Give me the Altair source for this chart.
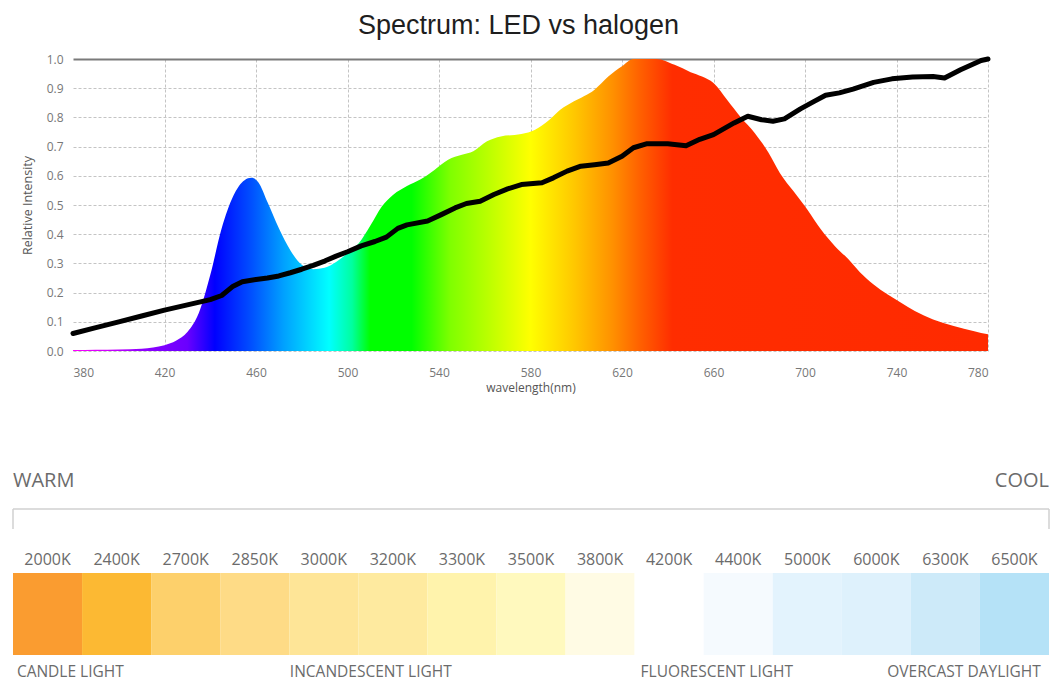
import altair as alt
import pandas as pd

# ---------------- data ----------------
led_wl = [380, 390, 400, 410, 415, 420, 425, 430, 435, 440, 445, 450, 455, 458, 461,
          465, 470, 475, 480, 485, 490, 495, 500, 505, 510, 515, 520, 526, 532, 538,
          544, 550, 555, 561, 567, 576, 582, 588, 593, 599, 608, 614, 620, 625, 635,
          643, 650, 655, 660, 666, 672, 678, 684, 689, 695, 701, 707, 713, 719, 724,
          730, 736, 742, 748, 756, 765, 774, 780]
led_val = [0.003, 0.004, 0.005, 0.008, 0.012, 0.02, 0.035, 0.065, 0.13, 0.26, 0.42, 0.53,
           0.585, 0.593, 0.578, 0.51, 0.42, 0.345, 0.295, 0.28, 0.285, 0.305, 0.335, 0.37,
           0.43, 0.495, 0.535, 0.565, 0.588, 0.62, 0.655, 0.672, 0.684, 0.718, 0.735, 0.743,
           0.758, 0.79, 0.826, 0.855, 0.895, 0.94, 0.975, 1.0, 1.0, 0.98, 0.955, 0.94, 0.918,
           0.86, 0.80, 0.747, 0.68, 0.61, 0.547, 0.485, 0.416, 0.36, 0.314, 0.27, 0.228,
           0.194, 0.165, 0.137, 0.108, 0.086, 0.068, 0.057]

hal_wl = [380, 390, 400, 410, 420, 430, 440, 445, 450, 454, 460, 465, 470, 475, 480, 485,
          490, 495, 500, 506, 512, 517, 522, 526, 535, 541, 547, 552, 558, 564, 570, 576,
          585, 590, 596, 602, 608, 614, 620, 625, 631, 640, 648, 654, 660, 669, 675, 681,
          686, 691, 698, 704, 709, 715, 721, 730, 738, 747, 756, 761, 768, 777, 780]
hal_val = [0.06, 0.08, 0.10, 0.12, 0.14, 0.158, 0.176, 0.19, 0.222, 0.237, 0.245, 0.25,
           0.257, 0.268, 0.28, 0.293, 0.308, 0.325, 0.34, 0.36, 0.375, 0.39, 0.42, 0.432,
           0.445, 0.467, 0.49, 0.505, 0.513, 0.536, 0.555, 0.57, 0.576, 0.593, 0.616, 0.633,
           0.638, 0.644, 0.667, 0.696, 0.71, 0.71, 0.703, 0.725, 0.741, 0.781, 0.804, 0.792,
           0.787, 0.795, 0.829, 0.855, 0.876, 0.884, 0.897, 0.92, 0.932, 0.938, 0.94, 0.935,
           0.963, 0.995, 1.0]

# spectrum colour stops (wavelength -> colour)
grad_wl = [380, 395, 410, 430, 442, 458, 472, 492, 502, 510, 528, 545, 563, 580, 599,
           616, 628, 642, 780]
grad_colors = ["#FF00FF", "#D000FF", "#9000FF", "#6A00FF", "#0000FF", "#0050FF", "#00A0FF",
               "#00FFFF", "#00FF9F", "#00FF00", "#00FF00", "#7FFF00", "#C0FF00", "#FFFF00",
               "#FFC800", "#FF9000", "#FF6000", "#FF2D00", "#FF2A00"]

x_ticks = [380, 420, 460, 500, 540, 580, 620, 660, 700, 740, 780]
y_ticks = [0, 0.1, 0.2, 0.3, 0.4, 0.5, 0.6, 0.7, 0.8, 0.9, 1]

kelvins = ["2000K", "2400K", "2700K", "2850K", "3000K", "3200K", "3300K", "3500K",
           "3800K", "4200K", "4400K", "5000K", "6000K", "6300K", "6500K"]
swatch_colors = ["#FA9C30", "#FCB933", "#FDD06B", "#FEDB86", "#FEE597", "#FEEA9F",
                 "#FFF3AC", "#FFF9BE", "#FFFBE4", "#FFFFFF", "#F5FAFE", "#E3F3FD",
                 "#DEF1FC", "#CDEAF9", "#B5E2F7"]
categories = ["CANDLE LIGHT", "INCANDESCENT LIGHT", "FLUORESCENT LIGHT", "OVERCAST DAYLIGHT"]
category_centre = [0.83, 5.18, 10.19, 13.77]   # in swatch units

# ---------------- top: spectrum ----------------
W, H = 915, 292
FONT = "Open Sans"

led_df = pd.DataFrame({"wl": led_wl, "v": led_val})
hal_df = pd.DataFrame({"wl": hal_wl, "v": hal_val})

stops = [alt.GradientStop(offset=(w - 380) / 400, color=c) for w, c in zip(grad_wl, grad_colors)]
gradient = alt.Gradient(gradient="linear", stops=stops, x1=0, x2=1, y1=0, y2=0)

xscale = alt.Scale(domain=[380, 780], nice=False, zero=False)
yscale = alt.Scale(domain=[0, 1], nice=False)

x_axis = alt.Axis(values=x_ticks, title="wavelength(nm)", ticks=False, domain=False,
                  labelFont=FONT, labelFontSize=12, labelColor="#777777", labelPadding=16,
                  titleFont=FONT, titleFontSize=12, titleFontWeight="normal",
                  titleColor="#555555", titlePadding=4,
                  gridColor="#c4c4c4", gridDash=[3, 2], gridWidth=1,
                  gridOpacity={"condition": {"test": "datum.value === 380", "value": 0}, "value": 1})
y_axis = alt.Axis(values=y_ticks, format=".1f", title="Relative Intensity", ticks=False,
                  domain=False, labelFont=FONT, labelFontSize=12, labelColor="#777777",
                  labelPadding=10, labelOverlap=False, titleFont=FONT, titleFontSize=12.5,
                  titleFontWeight="normal", titleColor="#555555", titlePadding=12,
                  gridColor={"condition": {"test": "datum.value === 1", "value": "#7a7a7a"},
                             "value": "#c4c4c4"},
                  gridDash={"condition": {"test": "datum.value === 1", "value": []},
                            "value": [3, 2]},
                  gridWidth={"condition": {"test": "datum.value === 1", "value": 2},
                             "value": 1})

X = alt.X("wl:Q", scale=xscale, axis=x_axis)
Y = alt.Y("v:Q", scale=yscale, axis=y_axis)

area = alt.Chart(led_df).mark_area(color=gradient, opacity=1, interpolate="monotone").encode(
    x=X, y=Y)
line = alt.Chart(hal_df).mark_line(color="black", strokeWidth=5, strokeCap="round",
                                   strokeJoin="round").encode(x=X, y=Y)

top = alt.layer(area, line).properties(
    width=W, height=H,
    title=alt.TitleParams("Spectrum: LED vs halogen", font="Liberation Sans", fontSize=27,
                          fontWeight="normal", color="#1e1e1e", anchor="middle",
                          frame="group", dx=-12, baseline="alphabetic", offset=-8),
)

# ---------------- bottom: colour temperature strip ----------------
HB = 82
sw_df = pd.DataFrame({"kelvin": kelvins, "color": swatch_colors, "i": list(range(len(kelvins)))})
cat_df = pd.DataFrame({"label": categories, "pos": category_centre})
ends_df = pd.DataFrame({"label": ["WARM", "COOL"], "pos": [0, len(kelvins)]})

bscale = alt.Scale(domain=[0, len(kelvins)], range=[-60, 976], nice=False, zero=False)
TXT = "#6b6b6b"

base = alt.Chart(sw_df).transform_calculate(i2="datum.i + 1", mid="datum.i + 0.5")
rects = base.mark_rect().encode(
    x=alt.X("i:Q", scale=bscale, axis=None),
    x2="i2:Q",
    color=alt.Color("kelvin:N", scale=alt.Scale(domain=kelvins, range=swatch_colors),
                    legend=None),
)
klabels = base.mark_text(font=FONT, fontSize=16, color=TXT, baseline="middle").encode(
    x=alt.X("mid:Q", scale=bscale, axis=None),
    y=alt.value(-13),
    text="kelvin:N",
)
cats = alt.Chart(cat_df).mark_text(font=FONT, fontSize=15.5, color=TXT, baseline="middle").encode(
    x=alt.X("pos:Q", scale=bscale, axis=None),
    y=alt.value(HB + 17),
    text="label:N",
)
warm = alt.Chart(ends_df).transform_filter("datum.label == 'WARM'").mark_text(
    font=FONT, fontSize=20, color=TXT, baseline="middle", align="left").encode(
    x=alt.X("pos:Q", scale=bscale, axis=None), y=alt.value(-92), text="label:N")
cool = alt.Chart(ends_df).transform_filter("datum.label == 'COOL'").mark_text(
    font=FONT, fontSize=20, color=TXT, baseline="middle", align="right").encode(
    x=alt.X("pos:Q", scale=bscale, axis=None), y=alt.value(-92), text="label:N")
bracket_h = alt.Chart(pd.DataFrame({"a": [0], "b": [len(kelvins)]})).mark_rule(
    color="#d0d0d0", strokeWidth=1.5).encode(
    x=alt.X("a:Q", scale=bscale, axis=None), x2="b:Q", y=alt.value(-64))
bracket_v = alt.Chart(ends_df).mark_rule(color="#d0d0d0", strokeWidth=1.5).encode(
    x=alt.X("pos:Q", scale=bscale, axis=None), y=alt.value(-64), y2=alt.value(-44))

bottom = alt.layer(rects, klabels, cats, warm, cool, bracket_h, bracket_v).properties(
    width=W, height=HB)

chart = alt.vconcat(top, bottom, spacing=78).properties(
    padding={"left": 4, "top": 4, "right": 5, "bottom": 0}
).configure_view(stroke=None)

chart.save("out.html", embed_options={"renderer": "svg", "actions": False})
